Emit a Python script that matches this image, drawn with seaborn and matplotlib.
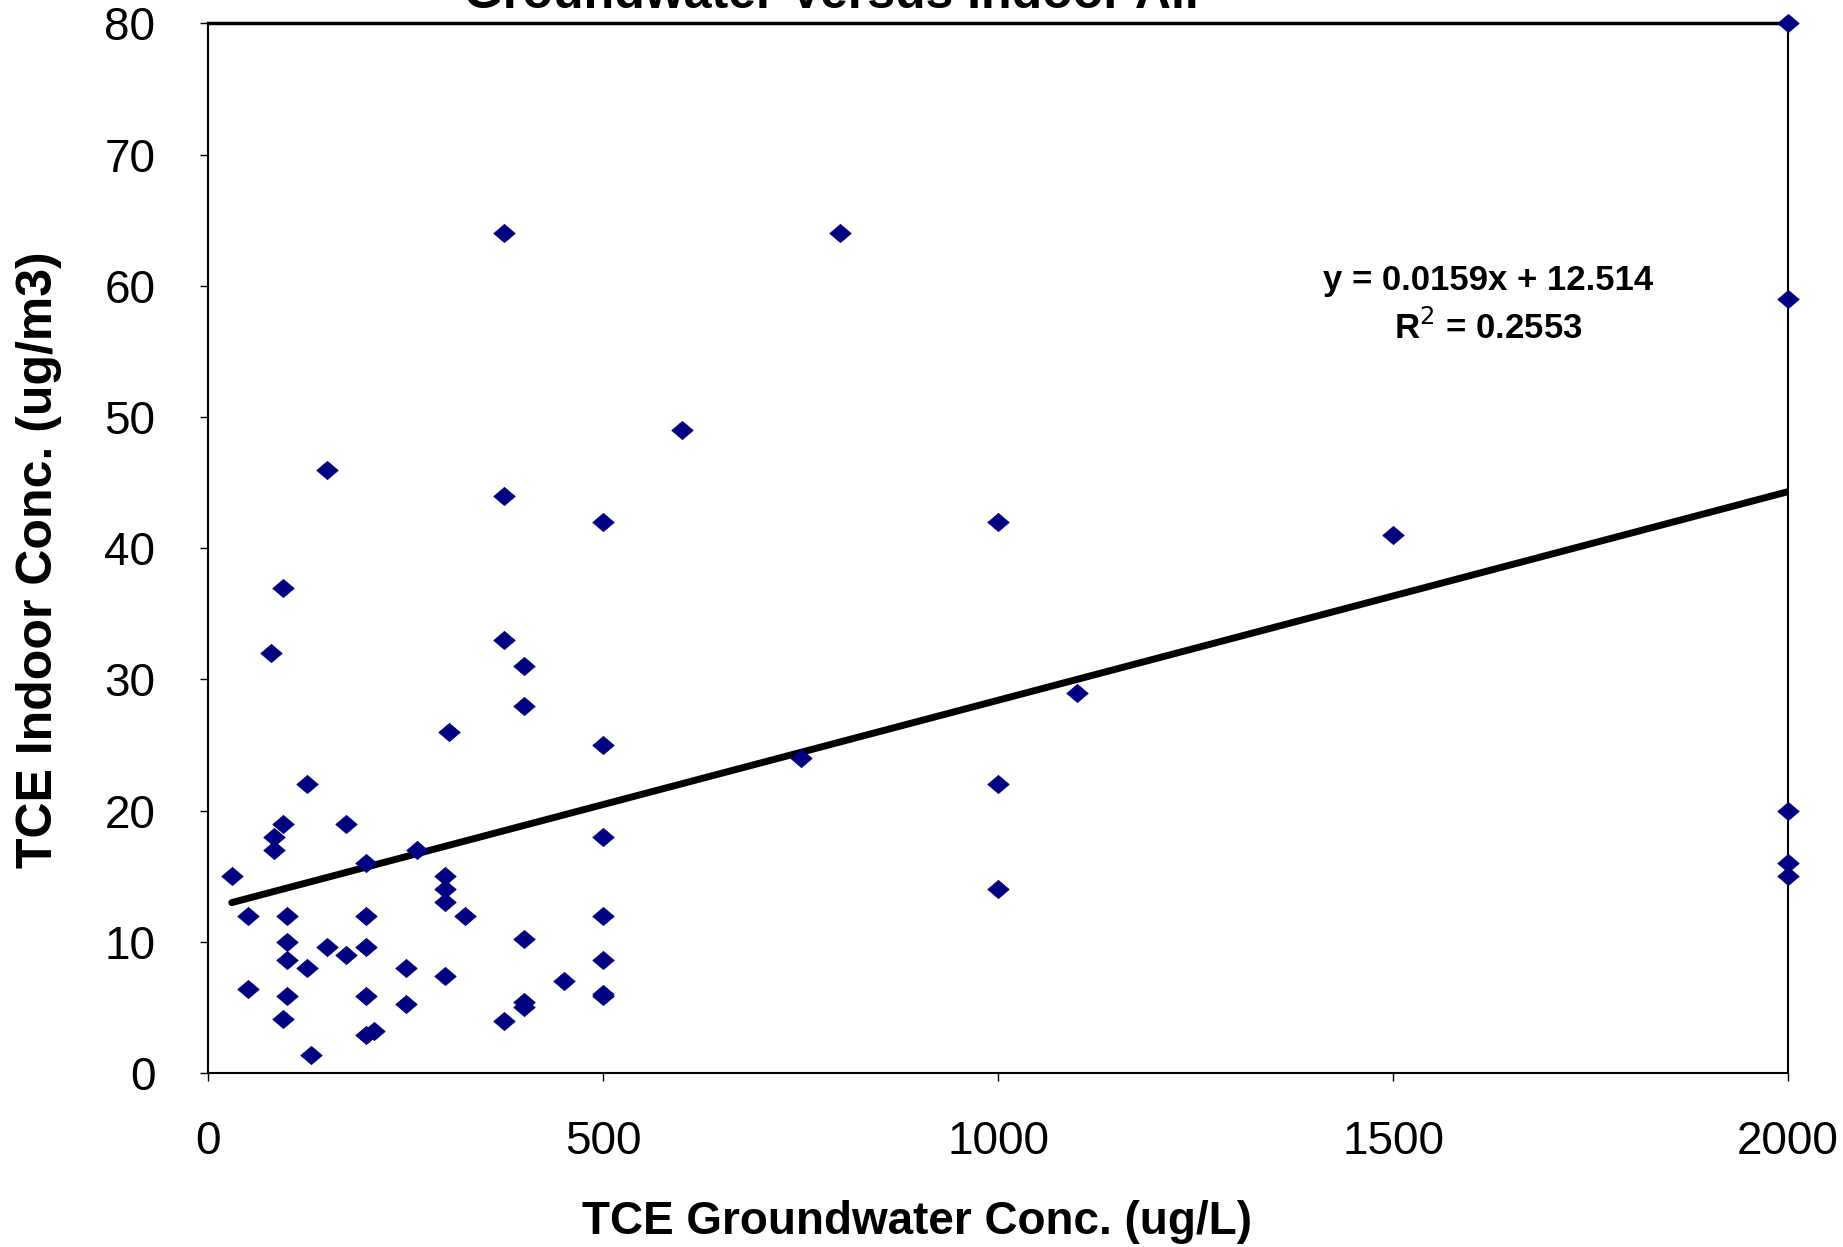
import numpy as np
import pandas as pd
import seaborn as sns
import matplotlib.pyplot as plt

# TCE groundwater (ug/L) vs indoor air (ug/m3)
groundwater = [30, 50, 50, 80, 83, 83, 95, 95, 95, 100, 100, 100, 100, 125, 125, 130,
               150, 150, 175, 175, 200, 200, 200, 200, 200, 210, 250, 250, 265,
               300, 300, 300, 300, 305, 325, 375, 375, 375, 375, 400, 400, 400, 400,
               400, 450, 500, 500, 500, 500, 500, 500, 500, 600, 750, 800,
               1000, 1000, 1000, 1100, 1500, 2000, 2000, 2000, 2000, 2000]
indoor = [15, 12, 6.4, 32, 18, 17, 19, 37, 4.1, 12, 10, 8.6, 5.9, 22, 8, 1.4,
          46, 9.6, 19, 9, 16, 12, 9.6, 5.9, 2.9, 3.2, 8, 5.3, 17,
          15, 14, 13, 7.4, 26, 12, 64, 44, 33, 4, 31, 28, 10.2, 5.4,
          5.0, 7, 42, 25, 18, 12, 8.6, 5.9, 6.0, 49, 24, 64,
          42, 22, 14, 29, 41, 80, 59, 20, 16, 15]

slope = 0.0159
intercept = 12.514
r_squared = 0.2553

df = pd.DataFrame({"gw": groundwater, "indoor": indoor})

sns.set_style("white")
plt.rcParams["font.family"] = ["Liberation Sans", "DejaVu Sans"]
plt.rcParams["text.color"] = "black"
plt.rcParams["axes.labelcolor"] = "black"
plt.rcParams["xtick.color"] = "black"
plt.rcParams["ytick.color"] = "black"

fig = plt.figure(figsize=(18.43, 12.47), dpi=100)
ax = fig.add_axes([0.1129, 0.1395, 0.8573, 0.8417])

# slightly flattened diamond like the Excel marker
diamond = [(-1, 0), (0, 0.85), (1, 0), (0, -0.85), (-1, 0)]
sns.scatterplot(data=df, x="gw", y="indoor", marker=diamond, color="#000080",
                edgecolor="#000080", linewidth=0.5, s=240, ax=ax, clip_on=False, zorder=3)

fit_x = np.array([min(groundwater), max(groundwater)])
fit = pd.DataFrame({"x": fit_x, "y": slope * fit_x + intercept})
sns.lineplot(data=fit, x="x", y="y", color="black", linewidth=5, ax=ax, zorder=2)

ax.set_xlim(0, 2000)
ax.set_ylim(0, 80)
ax.set_xticks(range(0, 2001, 500))
ax.set_yticks(range(0, 81, 10))
ax.tick_params(axis="both", direction="out", length=6, width=1, color="black",
               labelsize=33, bottom=True, left=True)
ax.tick_params(axis="x", pad=28)
ax.tick_params(axis="y", pad=32)
for side in ["left", "bottom", "right", "top"]:
    ax.spines[side].set_color("black")
    ax.spines[side].set_linewidth(1.5)
ax.spines["top"].set_linewidth(2.5)

ax.set_xlabel("TCE Groundwater Conc. (ug/L)", fontsize=33, fontweight="bold")
ax.set_ylabel("TCE Indoor Conc. (ug/m3)", fontsize=36, fontweight="bold")
ax.xaxis.set_label_coords(0.449, -0.142)
ax.xaxis.label.set_va("center")
ax.yaxis.set_label_coords(-0.107, 0.489)
ax.yaxis.label.set_va("center")

ax.text(1620, 60.4, f"y = {slope}x + {intercept}", fontsize=25, fontweight="bold",
        ha="center", va="center")
ax.text(1620, 56.8, f"R$^{{2}}$ = {r_squared}", fontsize=25, fontweight="bold",
        ha="center", va="center")

fig.text(834 / 1843, 1 - 8 / 1247, "Groundwater Versus Indoor Air", fontsize=36,
         fontweight="bold", ha="center", va="baseline")

fig.savefig("out.png", dpi=100)
